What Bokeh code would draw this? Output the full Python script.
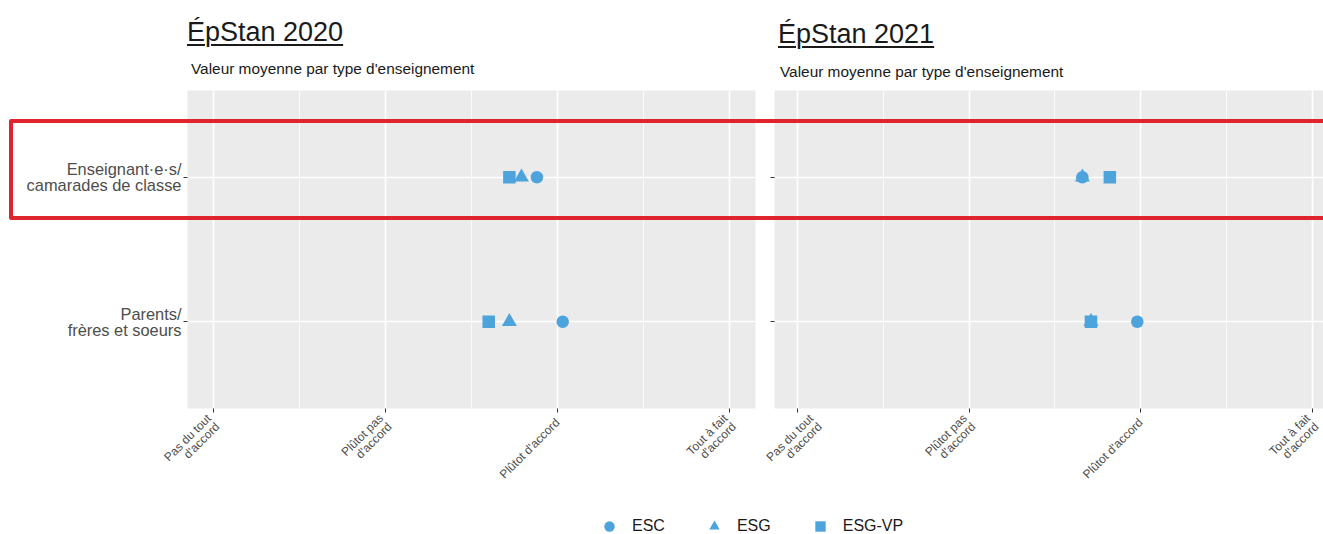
import math
from bokeh.plotting import figure
from bokeh.models import (ColumnDataSource, FactorRange, Range1d, FixedTicker, Div,
                          Legend, LegendItem, LinearAxis)
from bokeh.layouts import row, column
from bokeh.embed import file_html
from bokeh.resources import INLINE
from bokeh.core.properties import value

# ---------------- data ----------------
categories = ["Parents/\nfrères et soeurs", "Enseignant·e·s/\ncamarades de classe"]
series = ["ESC", "ESG", "ESG-VP"]
markers = ["circle", "triangle", "square"]

# order of values follows `categories`: [Parents, Enseignant]
esc_2020 = [3.03, 2.88]
esg_2020 = [2.72, 2.79]
esgvp_2020 = [2.60, 2.72]

esc_2021 = [2.98, 2.66]
esg_2021 = [2.71, 2.66]
esgvp_2021 = [2.71, 2.82]

x_ticks = [1, 2, 3, 4]
x_minor_ticks = [1.5, 2.5, 3.5]
x_tick_labels = ["Pas du tout\nd'accord", "Plûtot pas\nd'accord", "Plûtot d'accord", "Tout à fait\nd'accord"]

titles = ["ÉpStan 2020", "ÉpStan 2021"]
subtitle = "Valeur moyenne par type d'enseignement"

# ---------------- style ----------------
FONT = "Liberation Sans"
BLUE = "#4DA3DC"
PANEL_BG = "#EBEBEB"
RED = "#E0242C"
AXIS_TXT = "#4D4D4D"
TXT = "#1A1A1A"
sizes = {"circle": 12.5, "triangle": 15, "square": 12.5}

H_TOP = 489
PAGE_H = 534


def style_ticks(ax):
    ax.axis_line_color = None
    ax.major_tick_line_color = "#333333"
    ax.major_tick_line_width = 1
    ax.major_tick_out = 4
    ax.major_tick_in = 0
    ax.minor_tick_line_color = None


def make_panel(width, mb_left, mb_right, mb_top, mb_bottom, x_start, x_end,
               values, show_ylabels):
    p = figure(width=width, height=H_TOP, output_backend="svg", toolbar_location=None,
               title=None, x_range=Range1d(x_start, x_end),
               y_range=FactorRange(factors=categories, range_padding=0.1,
                                   range_padding_units="absolute"),
               y_axis_location="left" if show_ylabels else None,
               min_border_left=mb_left, min_border_right=mb_right,
               min_border_top=mb_top, min_border_bottom=mb_bottom)
    p.background_fill_color = PANEL_BG
    p.border_fill_color = "white"
    p.outline_line_color = None

    p.xaxis.ticker = FixedTicker(ticks=x_ticks, minor_ticks=x_minor_ticks)
    p.xaxis.major_label_overrides = {t: lab for t, lab in zip(x_ticks, x_tick_labels)}
    p.xaxis.major_label_orientation = math.pi / 4
    p.xaxis.major_label_text_font = FONT
    p.xaxis.major_label_text_font_size = "12px"
    p.xaxis.major_label_text_color = AXIS_TXT
    p.xaxis.major_label_text_line_height = 0.85
    p.xaxis.major_label_standoff = 8
    style_ticks(p.xaxis[0])

    if show_ylabels:
        ya = p.yaxis[0]
        ya.major_label_text_font = FONT
        ya.major_label_text_font_size = "16.4px"
        ya.major_label_text_color = AXIS_TXT
        ya.major_label_text_line_height = 0.87
        ya.major_label_standoff = 2
        style_ticks(ya)
    else:
        # the second panel shares the rows: tick marks only, at the factor centres
        centres = [i + 0.5 for i in range(len(categories))]
        ya = LinearAxis(ticker=FixedTicker(ticks=centres),
                        major_label_overrides={c: " " for c in centres},
                        major_label_standoff=0, major_label_text_font=FONT,
                        major_label_text_font_size="6px")
        style_ticks(ya)
        p.add_layout(ya, "left")

    p.xgrid.grid_line_color = "white"
    p.xgrid.grid_line_width = 1.6
    p.xgrid.minor_grid_line_color = "white"
    p.xgrid.minor_grid_line_width = 0.8
    p.ygrid.grid_line_color = "white"
    p.ygrid.grid_line_width = 1.6

    for vals, mk in zip(values, markers):
        src = ColumnDataSource(dict(x=vals, y=categories))
        p.scatter("x", "y", source=src, marker=mk, size=sizes[mk],
                  fill_color=BLUE, line_color=None)
    return p


# left panel: frame at x 187..755, y 90..413
left = make_panel(width=763, mb_left=187, mb_right=8, mb_top=90, mb_bottom=H_TOP - 413,
                  x_start=0.85, x_end=4.15,
                  values=[esc_2020, esg_2020, esgvp_2020], show_ylabels=True)

# right panel: frame at x 774..1323, y 89..410 (cut by the page edge)
right = make_panel(width=560, mb_left=11, mb_right=0, mb_top=89, mb_bottom=H_TOP - 410,
                   x_start=0.866, x_end=4.065,
                   values=[esc_2021, esg_2021, esgvp_2021], show_ylabels=False)

# legend strip
leg = figure(width=1323, height=PAGE_H - H_TOP, output_backend="svg", toolbar_location=None,
             title=None, x_range=Range1d(0, 1), y_range=Range1d(0, 1),
             x_axis_type=None, y_axis_type=None, min_border=0)
leg.outline_line_color = None
leg.xgrid.visible = False
leg.ygrid.visible = False
items = []
for name, mk in zip(series, markers):
    # legend-only renderers, their point lies outside the visible range
    r = leg.scatter(x=[-10], y=[-10], marker=mk, size=10, fill_color=BLUE, line_color=None)
    items.append(LegendItem(label=value(name), renderers=[r]))
legend = Legend(items=items, orientation="horizontal", location=(596, -5),
                glyph_width=26, glyph_height=26, label_standoff=10, spacing=36,
                padding=0, margin=0, border_line_color=None, background_fill_alpha=0,
                label_text_font=FONT, label_text_font_size="16px", label_text_color=TXT)
leg.add_layout(legend)


def text_div(text, left_px, top_px, size_px, line_px, w, h):
    st = {"position": "absolute", "left": f"{left_px}px", "top": f"{top_px}px",
          "font-family": FONT, "font-size": f"{size_px}px", "line-height": f"{line_px}px",
          "color": TXT, "white-space": "nowrap", "z-index": "10", "margin": "0",
          "padding": "0"}
    return Div(text=text, width=w, height=h, styles=st)


def underlined(t):
    return ("<span style='text-decoration: underline; text-decoration-thickness: 2px; "
            "text-underline-offset: 3px'>" + t + "</span>")


title_l = text_div(underlined(titles[0]), 187, 17, 27, 30, w=200, h=34)
sub_l = text_div(subtitle, 191, 59.5, 15.4, 18, w=330, h=18)
title_r = text_div(underlined(titles[1]), 778, 19, 27, 30, w=200, h=34)
sub_r = text_div(subtitle, 780, 62.5, 15.4, 18, w=330, h=18)

# red highlight frame around the first row (open on the right, cut by the page edge)
red_box = Div(text="", width=1314, height=101, styles={
    "position": "absolute", "left": "8.5px", "top": "118.5px",
    "box-sizing": "border-box", "border": f"4.5px solid {RED}", "border-right": "none",
    "border-radius": "3px 0 0 3px", "pointer-events": "none", "z-index": "20",
    "margin": "0", "padding": "0"})

layout = column(row(left, right), leg, title_l, sub_l, title_r, sub_r, red_box)
open("out.html", "w").write(file_html(layout, INLINE))
